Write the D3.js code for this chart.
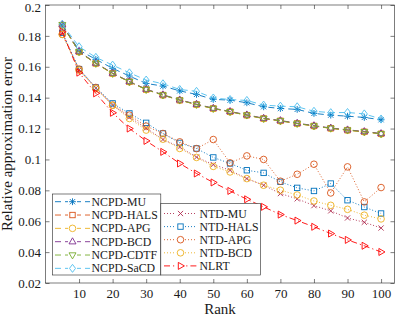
<!DOCTYPE html>
<html><head><meta charset="utf-8">
<script src="https://cdn.jsdelivr.net/npm/d3@7"></script>
<style>
body{margin:0;background:#fff}
svg{display:block}
text{font-family:'Liberation Serif','Times New Roman',serif;fill:#1a1a1a}
</style>
</head><body>
<svg id="c" width="399" height="317"></svg>
<script>
const ranks = [5,10,15,20,25,30,35,40,45,50,55,60,65,70,75,80,85,90,95,100];
const xTicks = [10,20,30,40,50,60,70,80,90,100];
const yTicks = [0.02,0.04,0.06,0.08,0.1,0.12,0.14,0.16,0.18,0.2];
const yTickLabels = ["0.02","0.04","0.06","0.08","0.1","0.12","0.14","0.16","0.18","0.2"];

const ncpdMU   = [0.187,0.1708,0.1648,0.1590,0.1540,0.1492,0.1475,0.1444,0.1421,0.1389,0.1384,0.1367,0.1341,0.1330,0.1324,0.1298,0.1287,0.1280,0.1272,0.1257];
const ncpdHALS = [0.187,0.1697,0.1622,0.1557,0.1503,0.1453,0.1417,0.1384,0.1356,0.1330,0.1309,0.1287,0.1265,0.1250,0.1233,0.1217,0.1202,0.1190,0.1179,0.1166];
const ncpdAPG  = [0.187,0.1696,0.1621,0.1556,0.1502,0.1452,0.1416,0.1383,0.1355,0.1329,0.1308,0.1286,0.1264,0.1249,0.1232,0.1216,0.1201,0.1189,0.1178,0.1165];
const ncpdBCD  = [0.1873,0.1699,0.1624,0.1559,0.1505,0.1455,0.1419,0.1386,0.1358,0.1332,0.1311,0.1289,0.1267,0.1252,0.1235,0.1219,0.1204,0.1192,0.1181,0.1168];
const ncpdCDTF = [0.1872,0.1697,0.1622,0.1557,0.1503,0.1453,0.1417,0.1384,0.1356,0.1330,0.1309,0.1287,0.1265,0.1250,0.1233,0.1217,0.1202,0.1190,0.1179,0.1166];
const ncpdSaCD = [0.1875,0.1730,0.1661,0.1611,0.1561,0.1514,0.1490,0.1453,0.1441,0.1398,0.1388,0.1382,0.1352,0.1345,0.1341,0.1312,0.1303,0.1304,0.1295,0.1262];
const ntdMU    = [0.182,0.1580,0.1462,0.1352,0.1274,0.1203,0.1129,0.1081,0.1015,0.0967,0.0930,0.0876,0.0833,0.0779,0.0745,0.0701,0.0667,0.0621,0.0593,0.0556];
const ntdHALS  = [0.182,0.1585,0.1466,0.1363,0.1298,0.1237,0.1168,0.1107,0.1071,0.1013,0.0974,0.0930,0.0913,0.0855,0.0816,0.0796,0.0844,0.0736,0.0692,0.0650];
const ntdAPG   = [0.181,0.1585,0.1466,0.1352,0.1287,0.1216,0.1168,0.1114,0.1070,0.1129,0.0978,0.1023,0.1000,0.0859,0.0904,0.0969,0.0783,0.0952,0.0725,0.0818];
const ntdBCD   = [0.181,0.1578,0.1458,0.1350,0.1265,0.1190,0.1131,0.1071,0.1013,0.0955,0.0919,0.0876,0.0833,0.0801,0.0770,0.0731,0.0703,0.0677,0.0639,0.0615];
const nlrt     = [0.1827,0.1562,0.1428,0.1302,0.1200,0.1120,0.1049,0.0974,0.0909,0.0851,0.0796,0.0742,0.0693,0.0643,0.0604,0.0564,0.0520,0.0479,0.0441,0.0401];

const names = ["NCPD-MU","NCPD-HALS","NCPD-APG","NCPD-BCD","NCPD-CDTF","NCPD-SaCD","NTD-MU","NTD-HALS","NTD-APG","NTD-BCD","NLRT"];

const DASH = "6,4", DOT = "1,2", DASHDOT = "6,3,1.2,3";
const series = [
  {name:names[0], v:ncpdMU,   c:"#0072BD", m:"star",  d:DASH},
  {name:names[1], v:ncpdHALS, c:"#D95319", m:"square",d:DASH},
  {name:names[2], v:ncpdAPG,  c:"#EDB120", m:"ocirc", d:DASH},
  {name:names[3], v:ncpdBCD,  c:"#7E2F8E", m:"tup",   d:DASH},
  {name:names[4], v:ncpdCDTF, c:"#77AC30", m:"tdown", d:DASH},
  {name:names[5], v:ncpdSaCD, c:"#4DBEEE", m:"diam",  d:DASH},
  {name:names[6], v:ntdMU,    c:"#B02E50", m:"x",     d:DOT},
  {name:names[7], v:ntdHALS,  c:"#0072BD", m:"square",d:DOT},
  {name:names[8], v:ntdAPG,   c:"#D95319", m:"ocirc", d:DOT},
  {name:names[9], v:ntdBCD,   c:"#EDB120", m:"circ",  d:DOT},
  {name:names[10],v:nlrt,     c:"#FF0000", m:"tright",d:DASHDOT}
];

const FONT = "'Liberation Serif','Times New Roman',serif";
const svg = d3.select("#c");
const L=45.5, R=394.5, T=5, B=283;
const x = d3.scaleLinear().domain([0,104]).range([L,R]);
const y = d3.scaleLinear().domain([0.02,0.2]).range([B,T]);
const AX = "#262626";

const gx = svg.append("g").attr("transform",`translate(0,${B})`)
  .call(d3.axisBottom(x).tickValues(xTicks).tickSizeInner(-4).tickSizeOuter(0).tickPadding(5.5));
const gxt = svg.append("g").attr("transform",`translate(0,${T})`)
  .call(d3.axisTop(x).tickValues(xTicks).tickSizeInner(-4).tickSizeOuter(0).tickFormat(""));
const gy = svg.append("g").attr("transform",`translate(${L},0)`)
  .call(d3.axisLeft(y).tickValues(yTicks).tickSizeInner(-4).tickSizeOuter(0).tickPadding(4.5)
    .tickFormat((d,i)=>yTickLabels[i]));
const gyr = svg.append("g").attr("transform",`translate(${R},0)`)
  .call(d3.axisRight(y).tickValues(yTicks).tickSizeInner(-4).tickSizeOuter(0).tickFormat(""));
[gx,gxt,gy,gyr].forEach(g=>{
  g.attr("font-family",FONT).attr("font-size",13);
  g.select(".domain").remove();
  g.selectAll("line").attr("stroke",AX).attr("stroke-width",0.6);
  g.selectAll("text").style("font-family",FONT).attr("font-size",13).attr("fill","#1a1a1a");
});
// keep top label inside the picture
gy.selectAll(".tick text").filter(d=>d===0.2).attr("dy","0.5em");
svg.append("rect").attr("x",L).attr("y",T).attr("width",R-L).attr("height",B-T)
  .attr("fill","none").attr("stroke",AX).attr("stroke-width",0.6);

svg.append("text").attr("x",(L+R)/2).attr("y",314).attr("text-anchor","middle")
  .style("font-family",FONT).attr("font-size",15).text("Rank");
svg.append("text").attr("transform",`translate(12,${(T+B)/2}) rotate(-90)`).attr("text-anchor","middle")
  .style("font-family",FONT).attr("font-size",15).text("Relative approximation error");

function marker(g, type, cx, cy, col){
  const s = g.append("g").attr("transform",`translate(${cx},${cy})`)
    .attr("fill","none").attr("stroke",col).attr("stroke-width",0.9);
  if(type==="circ"||type==="ocirc"){ s.append("circle").attr("r",3.3); }
  else if(type==="square"){ s.append("rect").attr("x",-2.7).attr("y",-2.7).attr("width",5.4).attr("height",5.4); }
  else if(type==="tup"){ s.append("path").attr("d","M0,-3.9L3.5,2.2L-3.5,2.2Z"); }
  else if(type==="tdown"){ s.append("path").attr("d","M0,3.9L3.5,-2.2L-3.5,-2.2Z"); }
  else if(type==="tright"){ s.append("path").attr("d","M3.9,0L-2.2,3.5L-2.2,-3.5Z"); }
  else if(type==="diam"){ s.append("path").attr("d","M0,-4L3,0L0,4L-3,0Z"); }
  else if(type==="x"){ s.append("path").attr("d","M-2.6,-2.6L2.6,2.6M-2.6,2.6L2.6,-2.6"); }
  else if(type==="star"){ s.append("path").attr("d","M-2.6,-2.6L2.6,2.6M-2.6,2.6L2.6,-2.6M0,-3.4L0,3.4M-3.4,0L3.4,0"); }
}

const line = d3.line().x((d,i)=>x(ranks[i])).y(d=>y(d));
const plot = svg.append("g");
series.forEach(s=>{
  plot.append("path").datum(s.v).attr("d",line).attr("fill","none")
    .attr("stroke",s.c).attr("stroke-width",0.9).attr("stroke-dasharray",s.d);
  s.v.forEach((v,i)=>marker(plot,s.m,x(ranks[i]),y(v),s.c));
});

function legend(items, bx, by, bw, bh, lx0, lx1, mx, tx, ey0, dy){
  const g = svg.append("g");
  g.append("rect").attr("x",bx).attr("y",by).attr("width",bw).attr("height",bh)
    .attr("fill","#fff").attr("stroke",AX).attr("stroke-width",0.6);
  items.forEach((s,i)=>{
    const yy = ey0 + i*dy;
    g.append("line").attr("x1",lx0).attr("x2",lx1).attr("y1",yy).attr("y2",yy)
      .attr("stroke",s.c).attr("stroke-width",0.9).attr("stroke-dasharray",s.d);
    g.append("rect").attr("x",mx-4.5).attr("y",yy-4.5).attr("width",9).attr("height",9).attr("fill","#fff");
    marker(g,s.m,mx,yy,s.c);
    g.append("text").attr("x",tx).attr("y",yy).attr("dy","0.35em")
      .style("font-family",FONT).attr("font-size",11.8).text(s.name);
  });
}
legend(series.slice(0,6), 52.3, 194, 108.5, 81, 55, 90, 72.5, 91.5, 201.7, 13.33);
legend(series.slice(6), 160.8, 203.5, 99.5, 71.5, 164, 197, 180.5, 199.5, 213.5, 13.1);
</script>
</body></html>
